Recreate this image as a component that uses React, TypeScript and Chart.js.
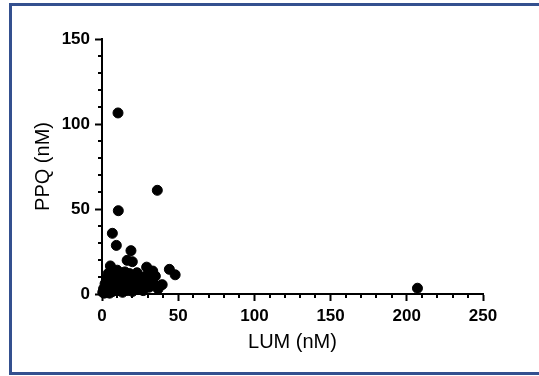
import React, { useEffect, useRef } from "react";
import { Chart, registerables } from "chart.js";

Chart.register(...registerables);

// LUM (nM) values
const lumValues: number[] = [
  10.5, 36.3, 10.7, 6.8, 9.4, 19, 16.5, 19.9, 5.5, 29.3, 33.3, 44.2, 48, 39.5, 36.8, 207,
  0.5, 1, 1.5, 2, 2.5, 3, 3, 3.5, 4, 4.5, 5, 5,
  6, 6.5, 7, 7, 8, 8.5, 9, 9.5, 10, 10.5, 11, 11.5, 12,
  13, 13.5, 14, 14.5, 15, 16, 16.5, 17, 18, 18.5, 19, 20, 20,
  21, 22, 23, 24, 25, 26, 27, 28, 30, 31, 32, 34, 35,
];
// PPQ (nM) values
const ppqValues: number[] = [
  106.5, 61, 49, 35.7, 28.6, 25.5, 19.8, 19, 16.5, 15.8, 13.5, 14.5, 11.3, 5.5, 3, 3.4,
  1, 3, 0.5, 6, 2, 9, 4, 1, 12, 7, 3, 0.5,
  10, 5, 13, 1.5, 8, 3, 11, 6, 14, 2, 9, 4.5, 12,
  7, 1, 10, 4, 13, 6, 2, 9, 12, 4, 7.5, 1.5, 11,
  5, 8.5, 12.5, 3, 6.5, 10, 2, 7, 11.5, 4, 8, 6, 10.5,
];

const xTicksMajor = [0, 50, 100, 150, 200, 250];
const yTicksMajor = [0, 50, 100, 150];
const xTitle = "LUM (nM)";
const yTitle = "PPQ (nM)";

const frameAndMinorTicks = {
  id: "frameAndMinorTicks",
  beforeDraw(chart: any) {
    const ctx = chart.ctx;
    ctx.save();
    ctx.fillStyle = "#fff";
    ctx.fillRect(0, 0, chart.width, chart.height);
    ctx.strokeStyle = "#34508f";
    ctx.lineWidth = 3;
    ctx.beginPath();
    ctx.moveTo(chart.width + 5, 4.5);
    ctx.lineTo(10.5, 4.5);
    ctx.lineTo(10.5, 373.5);
    ctx.lineTo(chart.width + 5, 373.5);
    ctx.stroke();
    ctx.restore();
  },
  afterDraw(chart: any) {
    const ctx = chart.ctx;
    const xs = chart.scales.x;
    const ys = chart.scales.y;
    const area = chart.chartArea;
    ctx.save();
    ctx.strokeStyle = "#000";
    ctx.lineWidth = 2;
    for (let v = 10; v < 250; v += 10) {
      if (v % 50 === 0) continue;
      const px = Math.round(xs.getPixelForValue(v));
      ctx.beginPath();
      ctx.moveTo(px, area.bottom);
      ctx.lineTo(px, area.bottom + 4);
      ctx.stroke();
    }
    for (let v = 10; v < 150; v += 10) {
      if (v % 50 === 0) continue;
      const py = Math.round(ys.getPixelForValue(v));
      ctx.beginPath();
      ctx.moveTo(area.left, py);
      ctx.lineTo(area.left - 4, py);
      ctx.stroke();
    }
    ctx.restore();
  },
};

export default function App() {
  const ref = useRef<HTMLCanvasElement | null>(null);
  useEffect(() => {
    if (!ref.current) return;
    const data = lumValues.map((x, i) => ({ x, y: ppqValues[i] }));
    const chart = new Chart(ref.current, {
      type: "scatter",
      data: {
        datasets: [
          {
            data,
            backgroundColor: "#000",
            borderColor: "#000",
            pointRadius: 5,
            pointHoverRadius: 5,
            clip: false as any,
          },
        ],
      },
      options: {
        animation: false,
        responsive: false,
        maintainAspectRatio: false,
        layout: { padding: { top: 39, right: 56, left: 0, bottom: 0 } },
        plugins: { legend: { display: false }, tooltip: { enabled: false } },
        scales: {
          x: {
            type: "linear",
            min: 0,
            max: 250,
            afterFit: (s: any) => {
              s.height = 82;
            },
            afterBuildTicks: (s: any) => {
              s.ticks = xTicksMajor.map((v) => ({ value: v }));
            },
            border: { display: true, color: "#000", width: 2 },
            grid: {
              display: true,
              drawOnChartArea: false,
              drawTicks: true,
              tickLength: 7,
              tickWidth: 2,
              tickColor: "#000",
            },
            ticks: {
              color: "#000",
              padding: 5,
              maxRotation: 0,
              font: { family: "Liberation Sans, Arial, sans-serif", size: 17, weight: "bold" },
            },
            title: {
              display: true,
              text: xTitle,
              color: "#000",
              padding: { top: 0, bottom: 22 },
              font: { family: "Liberation Sans, Arial, sans-serif", size: 20 },
            },
          },
          y: {
            type: "linear",
            min: 0,
            max: 150,
            afterFit: (s: any) => {
              s.width = 102;
            },
            afterBuildTicks: (s: any) => {
              s.ticks = yTicksMajor.map((v) => ({ value: v }));
            },
            border: { display: true, color: "#000", width: 2 },
            grid: {
              display: true,
              drawOnChartArea: false,
              drawTicks: true,
              tickLength: 7,
              tickWidth: 2,
              tickColor: "#000",
            },
            ticks: {
              color: "#000",
              padding: 5,
              font: { family: "Liberation Sans, Arial, sans-serif", size: 17, weight: "bold" },
            },
            title: {
              display: true,
              text: yTitle,
              color: "#000",
              padding: { top: 31, bottom: 0 },
              font: { family: "Liberation Sans, Arial, sans-serif", size: 20 },
            },
          },
        },
      },
      plugins: [frameAndMinorTicks],
    });
    return () => chart.destroy();
  }, []);

  return (
    <div style={{ position: "fixed", left: 0, top: 0, width: 539, height: 376, background: "#fff", overflow: "hidden" }}>
      <canvas ref={ref} width={539} height={376} style={{ position: "absolute", left: 0, top: 0, width: 539, height: 376 }} />
    </div>
  );
}
